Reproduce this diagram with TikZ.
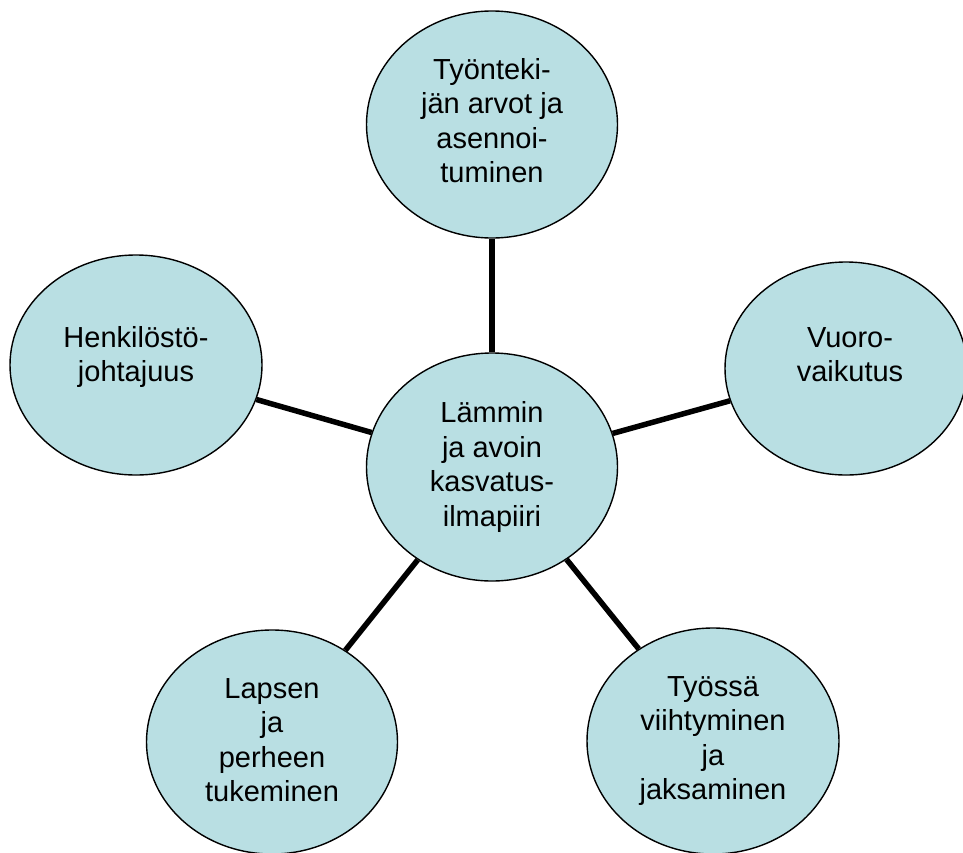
\documentclass[tikz,border=0pt]{standalone}
\usepackage{fontspec}
\setmainfont{Liberation Sans}
\usetikzlibrary{shapes.geometric}
\definecolor{bubblefill}{HTML}{B9DFE3}
\tikzset{
  bubble/.style={ellipse, draw=black, line width=1.4pt, fill=bubblefill,
    inner sep=0pt},
  bubbletext/.style={inner sep=0pt, align=center,
    font=\fontsize{29}{34.5}\selectfont},
  link/.style={line width=5.5pt, draw=black}
}
\begin{document}
\begin{tikzpicture}[x=1pt,y=-1pt]
\clip (0,0) rectangle (963,852);
\fill[white] (0,0) rectangle (963,852);
\node[bubble, minimum width=251pt, minimum height=227pt] (top) at (492,124.5) {};
\node[bubble, minimum width=251pt, minimum height=228pt] (mid) at (492,467) {};
\node[bubble, minimum width=252pt, minimum height=220pt] (left) at (136,365) {};
\node[bubble, minimum width=242pt, minimum height=213pt] (right) at (846,368.5) {};
\node[bubble, minimum width=251pt, minimum height=224pt] (bl) at (272,742) {};
\node[bubble, minimum width=252pt, minimum height=226pt] (br) at (713,741) {};
\node[bubbletext] (toptext) at ([yshift=4pt]top.center)
  {Työnteki-\\jän arvot ja\\asennoi-\\tuminen};
\node[bubbletext] (midtext) at (mid.center)
  {Lämmin\\ja avoin\\kasvatus-\\ilmapiiri};
\node[bubbletext] (lefttext) at ([yshift=8pt]left.center)
  {Henkilöstö-\\johtajuus};
\node[bubbletext] (righttext) at ([xshift=4pt,yshift=14pt]right.center)
  {Vuoro-\\vaikutus};
\node[bubbletext] (bltext) at ([yshift=2pt]bl.center)
  {Lapsen\\ja\\perheen\\tukeminen};
\node[bubbletext] (brtext) at (br.center)
  {Työssä\\viihtyminen\\ja\\jaksaminen};
\draw[link] (mid) -- (top);
\draw[link] (mid) -- (left);
\draw[link] (mid) -- (right);
\draw[link] (mid) -- (bl);
\draw[link] (mid) -- (br);
\end{tikzpicture}
\end{document}
